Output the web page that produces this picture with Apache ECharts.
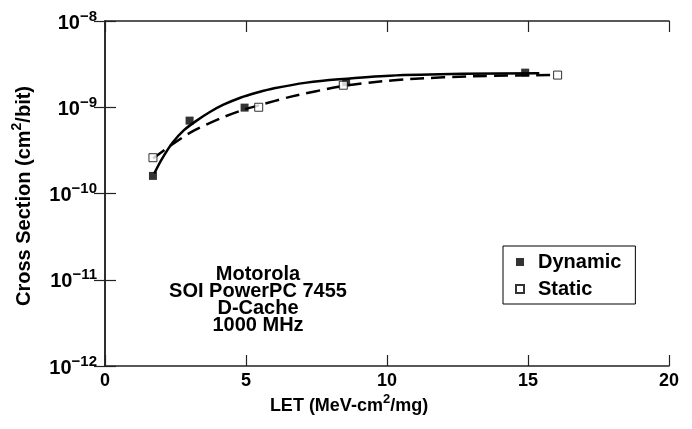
<!DOCTYPE html>
<html>
<head>
<meta charset="utf-8">
<script src="https://cdn.jsdelivr.net/npm/echarts@6/dist/echarts.min.js"></script>
<style>
  html, body { margin: 0; padding: 0; background: #fff; }
  #main { width: 692px; height: 429px; }
</style>
</head>
<body>
<div id="main"></div>
<script>
// measured points
var dynLET = [1.7, 3.0, 4.95, 8.55, 14.9];
var dynXS = [1.6e-10, 7.0e-10, 9.9e-10, 1.95e-9, 2.52e-9];
var staLET = [1.7, 5.45, 8.45, 16.05];
var staXS = [2.6e-10, 1.0e-9, 1.8e-9, 2.36e-9];

// fit curves
var dynFitLET = [1.75, 2.0, 2.4, 2.8, 3.25, 3.72, 4.2, 4.8, 5.4, 6.0, 7.15, 8.3, 10.1, 12.7, 15.4];
var dynFitXS = [1.71e-10, 2.45e-10, 3.89e-10, 5.43e-10, 7.0e-10, 8.81e-10, 1.07e-9, 1.29e-9, 1.48e-9, 1.66e-9, 1.93e-9, 2.11e-9, 2.32e-9, 2.44e-9, 2.48e-9];
var staFitLET = [1.71, 2.3, 3.07, 4.08, 4.9, 5.5, 6.56, 8.33, 9.51, 11, 13, 16];
var staFitXS = [2.56e-10, 3.55e-10, 5.19e-10, 7.41e-10, 9.33e-10, 1.06e-9, 1.32e-9, 1.74e-9, 1.95e-9, 2.14e-9, 2.29e-9, 2.37e-9];

var xTicks = [0, 5, 10, 15, 20];
var yExps = ['−12', '−11', '−10', '−9', '−8'];

var FONT = '"Liberation Sans", Arial, Helvetica, sans-serif';

function pairs(xs, ys) {
  return xs.map(function (x, i) { return [x, ys[i]]; });
}

var myChart = echarts.init(document.getElementById('main'));

var axisLine = { show: true, lineStyle: { color: '#222', width: 1.5 } };
var axisTick = { show: true, inside: true, length: 11, lineStyle: { color: '#222', width: 1.2 } };

myChart.setOption({
  animation: false,
  backgroundColor: '#fff',
  grid: { left: 105, right: 23, top: 21, bottom: 63 },
  xAxis: [
    {
      type: 'value', min: xTicks[0], max: xTicks[xTicks.length - 1], interval: 5,
      axisLine: axisLine, axisTick: axisTick, splitLine: { show: false },
      axisLabel: { margin: 6, fontFamily: FONT, fontWeight: 'bold', fontSize: 18, color: '#000' }
    },
    {
      type: 'value', position: 'top', min: 0, max: 20, interval: 5,
      axisLine: axisLine, axisTick: axisTick, splitLine: { show: false },
      axisLabel: { show: false }
    }
  ],
  yAxis: [
    {
      type: 'log', logBase: 10, min: 1e-12, max: 1e-8,
      axisLine: axisLine, axisTick: axisTick, splitLine: { show: false },
      axisLabel: {
        margin: 8,
        formatter: function (v) {
          var e = Math.round(Math.log10(v));
          return '{b|10}{s|' + yExps[e + 12] + '}';
        },
        rich: {
          b: { fontFamily: FONT, fontWeight: 'bold', fontSize: 20, color: '#000', lineHeight: 24, verticalAlign: 'bottom' },
          s: { fontFamily: FONT, fontWeight: 'bold', fontSize: 15, color: '#000', lineHeight: 24, verticalAlign: 'top', padding: [0, 0, 9, 0] }
        }
      }
    },
    {
      type: 'log', logBase: 10, min: 1e-12, max: 1e-8, position: 'right',
      axisLine: axisLine, axisTick: axisTick, splitLine: { show: false },
      axisLabel: { show: false }
    }
  ],
  legend: {
    data: ['Dynamic', 'Static'],
    orient: 'vertical',
    left: 503, top: 246,
    borderColor: '#000', borderWidth: 1, borderRadius: 0,
    padding: [6, 14, 5, 12],
    itemGap: 7, itemWidth: 8, itemHeight: 8,
    textStyle: { fontFamily: FONT, fontWeight: 'bold', fontSize: 20, color: '#000', padding: [0, 0, 0, 9] }
  },
  graphic: [
    {
      type: 'text', x: 349, y: 404,
      style: {
        x: 0, y: 0, align: 'center', verticalAlign: 'middle',
        text: '{t|LET (MeV-cm}{s|2}{t|/mg)}',
        rich: {
          t: { fontFamily: FONT, fontWeight: 'bold', fontSize: 18, fill: '#000', lineHeight: 22, verticalAlign: 'bottom' },
          s: { fontFamily: FONT, fontWeight: 'bold', fontSize: 13, fill: '#000', lineHeight: 22, verticalAlign: 'top', padding: [0, 0, 8, 0] }
        }
      }
    },
    {
      type: 'text', x: 22, y: 196, rotation: Math.PI / 2,
      style: {
        x: 0, y: 0, align: 'center', verticalAlign: 'middle',
        text: '{t|Cross Section (cm}{s|2}{t|/bit)}',
        rich: {
          t: { fontFamily: FONT, fontWeight: 'bold', fontSize: 20, fill: '#000', lineHeight: 24, verticalAlign: 'bottom' },
          s: { fontFamily: FONT, fontWeight: 'bold', fontSize: 14, fill: '#000', lineHeight: 24, verticalAlign: 'top', padding: [0, 0, 9, 0] }
        }
      }
    },
    {
      type: 'text', x: 258, y: 300,
      style: {
        x: 0, y: 0, align: 'center', verticalAlign: 'middle',
        text: 'Motorola\nSOI PowerPC 7455\nD-Cache\n1000 MHz',
        font: 'bold 20px ' + FONT, fill: '#000', lineHeight: 17
      }
    }
  ],
  series: [
    {
      name: 'Dynamic fit', type: 'line', smooth: 0.25, showSymbol: false, z: 2,
      data: pairs(dynFitLET, dynFitXS),
      lineStyle: { color: '#000', width: 2.5, type: 'solid' }
    },
    {
      name: 'Static fit', type: 'line', smooth: 0.25, showSymbol: false, z: 2,
      data: pairs(staFitLET, staFitXS),
      lineStyle: { color: '#000', width: 2.5, type: [14, 7] }
    },
    {
      name: 'Dynamic', type: 'scatter', symbol: 'rect', symbolSize: 8, z: 3,
      data: pairs(dynLET, dynXS),
      itemStyle: { color: '#000' }
    },
    {
      name: 'Static', type: 'scatter', symbol: 'rect', symbolSize: 8, z: 3,
      data: pairs(staLET, staXS),
      itemStyle: { color: '#fff', borderColor: '#000', borderWidth: 1 }
    }
  ]
});
</script>
</body>
</html>
